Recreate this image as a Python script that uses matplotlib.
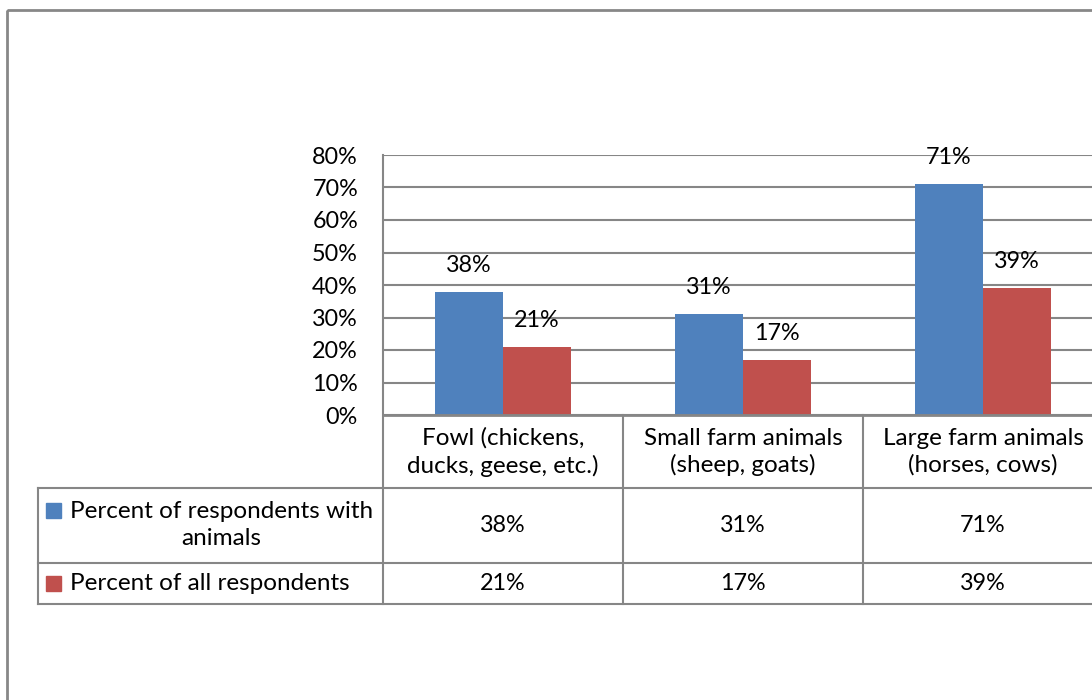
import matplotlib
matplotlib.use("Agg")
import matplotlib.pyplot as plt
import matplotlib.transforms as mtransforms
from matplotlib.patches import Rectangle
import numpy as np

categories = ["Fowl (chickens,\nducks, geese, etc.)",
              "Small farm animals\n(sheep, goats)",
              "Large farm animals\n(horses, cows)"]
series_names = ["Percent of respondents with\nanimals", "Percent of all respondents"]
with_animals = [38, 31, 71]
all_respondents = [21, 17, 39]
colors = ["#4F81BD", "#C0504D"]

plt.rcParams['font.family'] = ['Lato', 'DejaVu Sans']
FS = 17.5      # words
FSN = 16.8     # numbers
GRID = "#868686"
W, H = 1092, 700

fig = plt.figure(figsize=(W / 100, H / 100), dpi=100)

# overlay in pixel coordinates for frame and the data table
ov = fig.add_axes([0, 0, 1, 1])
ov.set_xlim(0, W)
ov.set_ylim(H, 0)
ov.axis('off')

ax = fig.add_axes([383 / W, (H - 415) / H, 720 / W, 260 / H])
ax.set_xlim(-0.5, 2.5)
ax.set_ylim(0, 0.8)
for s in ax.spines.values():
    s.set_visible(False)
ax.set_yticks(np.arange(0, 0.81, 0.1))
ax.set_yticklabels([f"{int(round(t * 100))}%" for t in np.arange(0, 0.81, 0.1)])
ax.tick_params(axis='y', length=0, pad=18, labelsize=FSN)
ax.set_xticks([])
ax.grid(axis='y', color=GRID, linewidth=1.5)
ax.set_axisbelow(True)
ax.patch.set_alpha(0)

x = np.arange(len(categories))
bw = 68 / 240
for vals, off, c in [(with_animals, -bw / 2, colors[0]), (all_respondents, bw / 2, colors[1])]:
    ax.bar(x + off, np.array(vals) / 100, width=bw, color=c, zorder=2)
    for xi, v in zip(x + off, vals):
        ax.annotate(f"{v}%", (xi, v / 100), xytext=(0, 19), textcoords='offset points',
                    ha='center', va='center', fontsize=FSN, annotation_clip=False)

ax.axhline(0, color=GRID, linewidth=2, zorder=3, clip_on=False)

# outer chart frame
ov.add_patch(Rectangle((7, 10), 1200, 800, fill=False, edgecolor="#878787", linewidth=2))

# data table
tr = mtransforms.blended_transform_factory(ax.transData, ov.transData)
for xv in [-0.5, 0.5, 1.5, 2.5]:
    top = 155 if xv == -0.5 else 415
    ov.plot([xv, xv], [top, 604], color=GRID, linewidth=1.5, transform=tr, clip_on=False)
for yv in [488, 563, 604]:
    ov.plot([38, 1100], [yv, yv], color=GRID, linewidth=1.5, clip_on=False)
ov.plot([38, 38], [488, 604], color=GRID, linewidth=1.5)

for xi, cat in zip(x, categories):
    ov.text(xi, 452, cat, transform=tr, ha='center', va='center', fontsize=FS, linespacing=1.32)

row_y = [525, 583]
for name, vals, c, ry in zip(series_names, [with_animals, all_respondents], colors, row_y):
    key_y = 510 if ry == 525 else 583
    ov.add_patch(Rectangle((46, key_y - 7), 15, 15, color=c))
    ov.text(70, ry, name, ha='left', va='center', multialignment='center',
            fontsize=FS, linespacing=1.32)
    for xi, v in zip(x, vals):
        ov.text(xi, ry, f"{v}%", transform=tr, ha='center', va='center', fontsize=FSN)

fig.savefig("out.png", dpi=100)
